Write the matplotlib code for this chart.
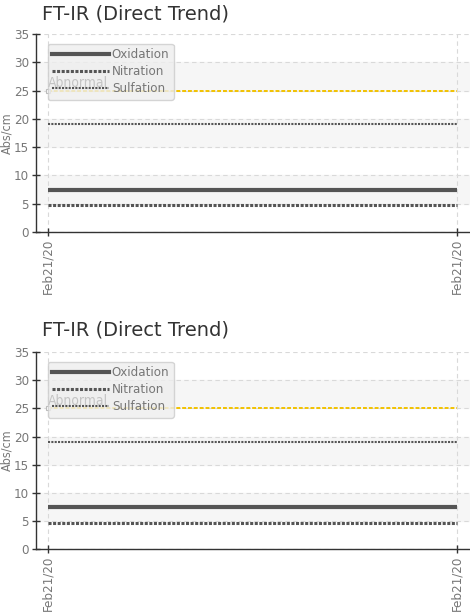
import matplotlib.pyplot as plt
from matplotlib import font_manager
from matplotlib.font_manager import FontProperties
from matplotlib.lines import Line2D

# chart data
dates = ["Feb21/20", "Feb21/20"]
oxidation = [7.4, 7.4]
nitration = [4.7, 4.7]
sulfation = [19.1, 19.1]
abnormal = [25, 25]
y_ticks = [0, 5, 10, 15, 20, 25, 30, 35]
bands = [(5, 10), (15, 20), (25, 30)]

# look for a narrow / condensed face for the axis texts
narrow_path = None
for f in font_manager.fontManager.ttflist:
    if ("Narrow" in f.name or "Condensed" in f.name or "condensed" in str(f.stretch)) \
            and f.weight in (400, "normal", "regular") and f.style == "normal":
        narrow_path = f.fname
        break


def nfont(size):
    if narrow_path:
        return FontProperties(fname=narrow_path, size=size)
    return FontProperties(family="Roboto", size=size * 0.85)


grey_txt = "#777777"
line_col = "#555555"


def draw_panel(ax):
    x = list(range(len(dates)))
    for lo, hi in bands:
        ax.axhspan(lo, hi, color="#f6f6f6", zorder=0)
    ax.grid(True, color="#d9d9d9", linestyle=(0, (4, 3)), linewidth=0.8, zorder=1)

    ax.plot(x, abnormal, color="#f2c200", lw=1.4, linestyle=(0, (2, 1)), zorder=3,
            marker="s", markevery=[0], markersize=3, markerfacecolor="white",
            markeredgecolor="#bbbbbb", markeredgewidth=0.8)
    ax.text(0, 25.6, "Abnormal", color="#c4c4c4", fontproperties=nfont(10), zorder=6)
    ax.plot(x, sulfation, color=line_col, lw=1.5, linestyle=(0, (1, 0.6)), zorder=4)
    ax.plot(x, oxidation, color=line_col, lw=3, solid_capstyle="butt", zorder=4)
    ax.plot(x, nitration, color=line_col, lw=2.2, linestyle=(0, (1, 0.5)), zorder=4)

    ax.set_xlim(-0.0293, 1.0318)
    ax.set_ylim(0, 35)
    ax.set_yticks(y_ticks)
    ax.set_xticks(x)
    ax.set_xticklabels(dates, rotation=90)
    for lab in ax.get_yticklabels() + ax.get_xticklabels():
        lab.set_fontproperties(nfont(9.5))
    ax.tick_params(colors="#333333", labelcolor=grey_txt,
                   direction="inout", length=6, width=1, pad=2)
    ax.set_ylabel("Abs/cm", color=grey_txt, fontproperties=nfont(9))
    ax.yaxis.set_label_coords(-0.052, 0.5)
    for s in ["top", "right"]:
        ax.spines[s].set_visible(False)
    for s in ["left", "bottom"]:
        ax.spines[s].set_color("#333333")
        ax.spines[s].set_linewidth(1)

    handles = [
        Line2D([], [], color=line_col, lw=3),
        Line2D([], [], color=line_col, lw=2.2, linestyle=(0, (1, 0.5))),
        Line2D([], [], color=line_col, lw=1.5, linestyle=(0, (1, 0.6))),
    ]
    leg = ax.legend(handles, ["Oxidation", "Nitration", "Sulfation"], loc="upper left",
                    bbox_to_anchor=(0.012, 0.985), handlelength=4.3, handletextpad=0.2,
                    labelspacing=0.3, borderpad=0.35, fancybox=True, framealpha=0.8,
                    prop=nfont(9.5))
    leg.get_frame().set_facecolor("#eeeeee")
    leg.get_frame().set_edgecolor("#cccccc")
    for t in leg.get_texts():
        t.set_color(grey_txt)
    leg.set_zorder(5)


fig = plt.figure(figsize=(4.7, 6.13), dpi=100)
ax1 = fig.add_axes([0.0766, 0.6215, 0.9234, 0.323])
ax2 = fig.add_axes([0.0766, 0.1044, 0.9234, 0.321])
draw_panel(ax1)
draw_panel(ax2)

fig.text(42 / 470, 1 - 14 / 613, "FT-IR (Direct Trend)", fontsize=14,
         color="#333333", va="center", ha="left")
fig.text(42 / 470, 1 - 330 / 613, "FT-IR (Direct Trend)", fontsize=14,
         color="#333333", va="center", ha="left")

fig.savefig("out.png", dpi=100)
